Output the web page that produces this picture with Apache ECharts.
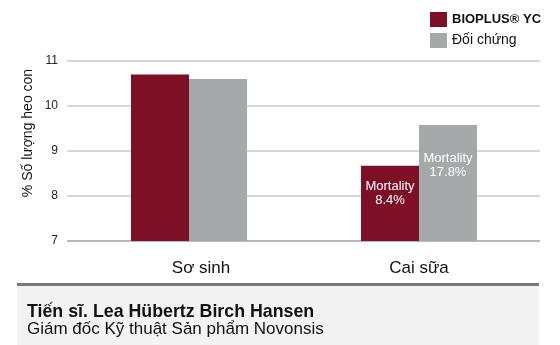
<!DOCTYPE html>
<html>
<head>
<meta charset="utf-8">
<script src="https://cdn.jsdelivr.net/npm/echarts@6/dist/echarts.min.js"></script>
<style>
html,body{margin:0;padding:0;background:#fff;}
#c{width:560px;height:345px;}
</style>
</head>
<body>
<div id="c"></div>
<script>
const categories = ['Sơ sinh', 'Cai sữa'];
const seriesNames = ['BIOPLUS® YC', 'Đối chứng'];
const bioplusValues = [10.7, 8.67];
const controlValues = [10.6, 9.58];
const bioplusLabels = ['', 'Mortality\n8.4%'];
const controlLabels = ['', 'Mortality\n17.8%'];
const yTicks = [7, 8, 9, 10, 11];
const yAxisTitle = '% Số lượng heo con';
const footerName = 'Tiến sĩ. Lea Hübertz Birch Hansen';
const footerRole = 'Giám đốc Kỹ thuật Sản phẩm Novonsis';

const FONT = '"Liberation Sans", Arial, sans-serif';
const RED = '#7d0f27';
const GRAY = '#a6a9aa';

function mkData(vals, labels, dist) {
  return vals.map((v, i) => ({
    value: v,
    label: labels[i] ? {show: true, formatter: labels[i], distance: dist} : {show: false}
  }));
}

const chart = echarts.init(document.getElementById('c'), null, {renderer: 'canvas'});
chart.setOption({
  animation: false,
  backgroundColor: '#fff',
  textStyle: {fontFamily: FONT},
  legend: {
    orient: 'vertical',
    left: 425, top: 7,
    itemWidth: 17, itemHeight: 15, itemGap: 6,
    icon: 'rect',
    data: seriesNames,
    textStyle: {fontSize: 14, color: '#111', fontFamily: FONT,
      rich: {b: {fontWeight: 'bold', fontSize: 13, color: '#111', fontFamily: FONT}}},
    formatter: function (n) { return n === seriesNames[0] ? '{b|' + n + '}' : n; }
  },
  grid: [
    {left: 74, right: 26, top: 61, bottom: 104},
    {left: 67, right: 20, top: 61, bottom: 104}
  ],
  xAxis: [
    {type: 'category', gridIndex: 0,
     data: categories.map((c, i) => i === 0 ? {value: c, textStyle: {padding: [0, 0, 0, 24]}} : c),
     axisLine: {show: false}, axisTick: {show: false},
     axisLabel: {fontSize: 17, color: '#111', margin: 19, fontFamily: FONT}},
    {type: 'value', gridIndex: 1, min: 0, max: 1, show: false}
  ],
  yAxis: [
    {type: 'value', gridIndex: 0, min: yTicks[0], max: yTicks[yTicks.length - 1], interval: 1,
     axisLine: {show: false}, axisTick: {show: false}, axisLabel: {show: false}, splitLine: {show: false}},
    {type: 'value', gridIndex: 1, min: yTicks[0], max: yTicks[yTicks.length - 1], interval: 1, z: 0,
     axisLine: {show: false}, axisTick: {show: false},
     axisLabel: {fontSize: 12, color: '#222', margin: 9, fontFamily: FONT},
     splitLine: {lineStyle: {color: ['#b9b9b9', '#d6d6d6', '#d6d6d6', '#d6d6d6', '#d6d6d6'], width: 2}}}
  ],
  series: [
    {name: seriesNames[0], type: 'bar', xAxisIndex: 0, yAxisIndex: 0, barWidth: 58, barGap: '0%',
     itemStyle: {color: RED}, z: 3,
     label: {position: 'insideTop', color: '#fff', fontSize: 13, lineHeight: 14, fontFamily: FONT},
     data: mkData(bioplusValues, bioplusLabels, 14)},
    {name: seriesNames[1], type: 'bar', xAxisIndex: 0, yAxisIndex: 0, barWidth: 58, barGap: '0%',
     itemStyle: {color: GRAY}, z: 3,
     label: {position: 'insideTop', color: '#fff', fontSize: 13, lineHeight: 14, fontFamily: FONT},
     data: mkData(controlValues, controlLabels, 27)}
  ],
  graphic: [
    {type: 'text', x: 28, y: 133, rotation: Math.PI / 2,
     style: {text: yAxisTitle, fontSize: 14, fill: '#111', font: '14px ' + FONT, textAlign: 'center', textVerticalAlign: 'middle'}},
    {type: 'rect', shape: {x: 17, y: 285, width: 522, height: 60}, style: {fill: '#f3f3f3'}},
    {type: 'rect', shape: {x: 17, y: 283, width: 522, height: 3}, style: {fill: '#7a7a7a'}},
    {type: 'text', x: 27, y: 312,
     style: {text: footerName, font: 'bold 17.8px ' + FONT, fill: '#111', textVerticalAlign: 'middle'}},
    {type: 'text', x: 27, y: 329,
     style: {text: footerRole, font: '17px ' + FONT, fill: '#111', textVerticalAlign: 'middle'}}
  ]
});
</script>
</body>
</html>
